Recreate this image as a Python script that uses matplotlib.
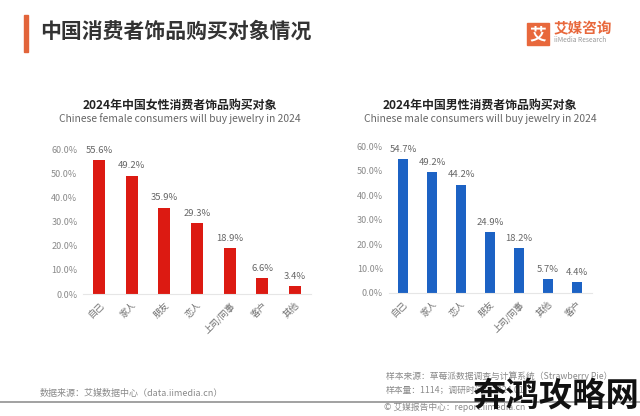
import matplotlib
matplotlib.use("Agg")
import matplotlib.pyplot as plt
from matplotlib.patches import Rectangle

plt.rcParams['font.family'] = ['Noto Sans CJK SC', 'DejaVu Sans']

# ---- data ----
female_cats = ["自己", "家人", "朋友", "恋人", "上司/同事", "客户", "其他"]
female_vals = [55.6, 49.2, 35.9, 29.3, 18.9, 6.6, 3.4]
male_cats = ["自己", "家人", "恋人", "朋友", "上司/同事", "其他", "客户"]
male_vals = [54.7, 49.2, 44.2, 24.9, 18.2, 5.7, 4.4]
y_ticks = [0, 10, 20, 30, 40, 50, 60]

title = "中国消费者饰品购买对象情况"
female_title = "2024年中国女性消费者饰品购买对象"
female_sub = "Chinese female consumers will buy jewelry in 2024"
male_title = "2024年中国男性消费者饰品购买对象"
male_sub = "Chinese male consumers will buy jewelry in 2024"

W, H = 640, 416
fig = plt.figure(figsize=(W / 100, H / 100), dpi=100)
fig.patch.set_facecolor("white")


def px(x, y):
    return x / W, 1 - y / H


def add_ax(left, right, bottom_px, top_px):
    return fig.add_axes([left / W, 1 - bottom_px / H, (right - left) / W, (bottom_px - top_px) / H])


def draw(ax, cats, vals, color, width):
    x = range(len(cats))
    ax.bar(x, vals, width=width, color=color, zorder=2)
    ax.set_xlim(-0.5, len(cats) - 0.5)
    ax.set_ylim(0, 60)
    ax.set_yticks(y_ticks)
    ax.set_yticklabels([f"{t:.1f}%" for t in y_ticks], fontsize=6.5, color="#8a8a8a")
    ax.set_xticks(list(x))
    ax.set_xticklabels(cats, rotation=45, ha="right", rotation_mode="anchor",
                       fontsize=6.5, color="#707070")
    ax.tick_params(axis="y", length=0, pad=4)
    ax.tick_params(axis="x", length=0, pad=5)
    for s in ["top", "right", "left"]:
        ax.spines[s].set_visible(False)
    ax.spines["bottom"].set_color("#e6e6e6")
    ax.spines["bottom"].set_linewidth(0.8)
    for i, v in enumerate(vals):
        ax.text(i, v + 2.2, f"{v:.1f}%", ha="center", va="bottom",
                fontsize=6.8, color="#666666")
    ax.set_facecolor("none")


axL = add_ax(83, 311, 294, 149.5)
draw(axL, female_cats, female_vals, "#dc1a12", 0.37)
axR = add_ax(388.5, 591.5, 293, 146)
draw(axR, male_cats, male_vals, "#1c62c4", 0.36)

# subtitles
fig.text(*px(180, 105), female_title, ha="center", va="center", fontsize=8.6,
         fontweight="bold", color="#222222")
fig.text(*px(180, 119), female_sub, ha="center", va="center", fontsize=7.4, color="#666666")
fig.text(*px(480, 105), male_title, ha="center", va="center", fontsize=8.6,
         fontweight="bold", color="#222222")
fig.text(*px(480, 119), male_sub, ha="center", va="center", fontsize=7.4, color="#666666")

# main title and accent bar
fig.patches.append(Rectangle(px(24, 52), 4 / W, 37 / H, transform=fig.transFigure,
                             color="#e2643a", zorder=3))
fig.text(*px(40, 31), title, ha="left", va="center", fontsize=15,
         fontweight="bold", color="#333333")

# logo
fig.patches.append(Rectangle(px(527, 45), 22 / W, 22 / H, transform=fig.transFigure,
                             color="#e8683c", zorder=3))
fig.text(*px(538, 34), "艾", ha="center", va="center", fontsize=12,
         fontweight="bold", color="white", zorder=4)
fig.text(*px(554, 28.5), "艾媒咨询", ha="left", va="center", fontsize=10.5,
         fontweight="bold", color="#e8683c")
fig.text(*px(554, 40.5), "iiMedia Research", ha="left", va="center", fontsize=4.8,
         color="#999999")

# footer
fig.add_artist(plt.Line2D([0, 1], [1 - 402 / H, 1 - 402 / H], transform=fig.transFigure,
                          color="#9a9a9a", linewidth=1.3))
fig.text(*px(40, 393), "数据来源：艾媒数据中心（data.iimedia.cn）", ha="left", va="center",
         fontsize=6.5, color="#8a8a8a")
fig.text(*px(386, 376), "样本来源：草莓派数据调查与计算系统（Strawberry Pie）", ha="left",
         va="center", fontsize=6.3, color="#8a8a8a")
fig.text(*px(386, 390), "样本量：1114；调研时间：2024.01", ha="left", va="center",
         fontsize=6.3, color="#8a8a8a")
fig.text(*px(384, 407), "© 艾媒报告中心：report.iimedia.cn", ha="left", va="center",
         fontsize=6.3, color="#8a8a8a")

# watermark
fig.text(*px(472, 396), "奔鸿攻略网", ha="left", va="center", fontsize=24,
         fontweight="bold", color="#111111", zorder=10)

fig.savefig("out.png", dpi=100, facecolor="white")
